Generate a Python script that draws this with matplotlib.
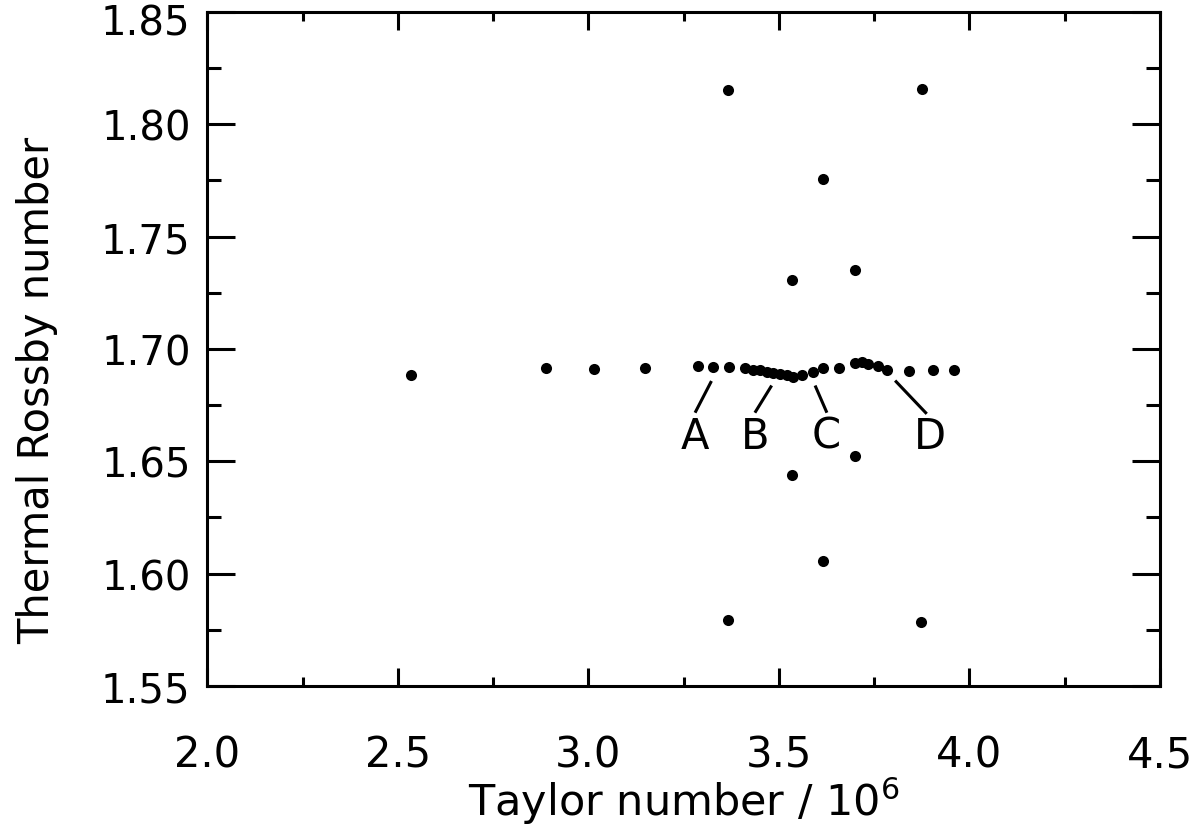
import numpy as np
import matplotlib
matplotlib.use("Agg")
from matplotlib import pyplot as plt
from matplotlib.ticker import MultipleLocator, FormatStrFormatter
from matplotlib.transforms import ScaledTranslation

# Main sequence of runs (Taylor number / 1e6, thermal Rossby number)
taylor_main = [2.534, 2.889, 3.014, 3.148, 3.288, 3.327, 3.369, 3.411, 3.433,
               3.450, 3.468, 3.485, 3.503, 3.520, 3.538, 3.560, 3.589, 3.616,
               3.658, 3.700, 3.717, 3.735, 3.761, 3.784, 3.842, 3.905, 3.960]
rossby_main = [1.6885, 1.6916, 1.6911, 1.6916, 1.6925, 1.6920, 1.6920, 1.6916,
               1.6907, 1.6904, 1.6897, 1.6892, 1.6889, 1.6882, 1.6877, 1.6882,
               1.6897, 1.6914, 1.6916, 1.6938, 1.6941, 1.6934, 1.6924, 1.6904,
               1.6901, 1.6904, 1.6904]

# Off-sequence runs
taylor_off = [3.366, 3.875, 3.616, 3.700, 3.534, 3.700, 3.534, 3.616, 3.366, 3.873]
rossby_off = [1.8154, 1.8158, 1.7757, 1.7352, 1.7308, 1.6524, 1.6439, 1.6057,
              1.5794, 1.5785]

# Labels: text, text position, line start (near point), line end (near text)
labels = ["A", "B", "C", "D"]
label_x = [3.280, 3.437, 3.623, 3.896]
label_y = [1.6613, 1.6613, 1.6613, 1.6613]
line_x0 = [3.323, 3.481, 3.595, 3.805]
line_y0 = [1.6857, 1.6837, 1.6837, 1.6859]
line_x1 = [3.280, 3.437, 3.626, 3.888]
line_y1 = [1.6716, 1.6716, 1.6716, 1.6711]


def main():
    plt.rcParams['font.family'] = 'DejaVu Sans'
    fig = plt.figure(figsize=(12.02, 8.28), dpi=100)
    ax = fig.add_axes([0.1725, 0.1705, 0.7925, 0.8138])

    ax.plot(taylor_main, rossby_main, 'o', color='black', ms=8, mew=0)
    ax.plot(taylor_off, rossby_off, 'o', color='black', ms=8, mew=0)

    for i in range(len(labels)):
        ax.plot([line_x0[i], line_x1[i]], [line_y0[i], line_y1[i]],
                color='black', lw=2.2, solid_capstyle='butt')
        ax.text(label_x[i], label_y[i], labels[i], fontsize=30,
                ha='center', va='center')

    ax.set_xlim(2.0, 4.5)
    ax.set_ylim(1.55, 1.85)
    ax.xaxis.set_major_locator(MultipleLocator(0.5))
    ax.xaxis.set_minor_locator(MultipleLocator(0.25))
    ax.yaxis.set_major_locator(MultipleLocator(0.05))
    ax.yaxis.set_minor_locator(MultipleLocator(0.025))
    ax.xaxis.set_major_formatter(FormatStrFormatter('%.1f'))
    ax.yaxis.set_major_formatter(FormatStrFormatter('%.2f'))

    ax.tick_params(axis='x', which='major', direction='in', top=True,
                   length=13, width=2.2, labelsize=30, pad=34)
    ax.tick_params(axis='x', which='minor', direction='in', top=True,
                   length=6.5, width=2.2)
    ax.tick_params(axis='y', which='major', direction='in', right=True,
                   length=20, width=2.2, labelsize=29, pad=12)
    ax.tick_params(axis='y', which='minor', direction='in', right=True,
                   length=10, width=2.2)
    for s in ax.spines.values():
        s.set_linewidth(2.2)

    ax.set_xlabel(r"Taylor number / 10$^6$", fontsize=31)
    ax.xaxis.set_label_coords(0.5, -0.132)
    ax.set_ylabel("Thermal Rossby number", fontsize=30)
    ax.yaxis.set_label_coords(-0.157, 0.44)

    fig.canvas.draw()
    for tick in ax.yaxis.get_major_ticks():
        tick.label1.set_verticalalignment('center_baseline')
        # top label nudged down so it stays inside the figure
        if abs(tick.get_loc() - 1.85) < 1e-6:
            tick.label1.set_transform(tick.label1.get_transform() +
                                      ScaledTranslation(0, -5 / 72, fig.dpi_scale_trans))

    fig.savefig("out.png", dpi=100)


if __name__ == '__main__':
    main()
